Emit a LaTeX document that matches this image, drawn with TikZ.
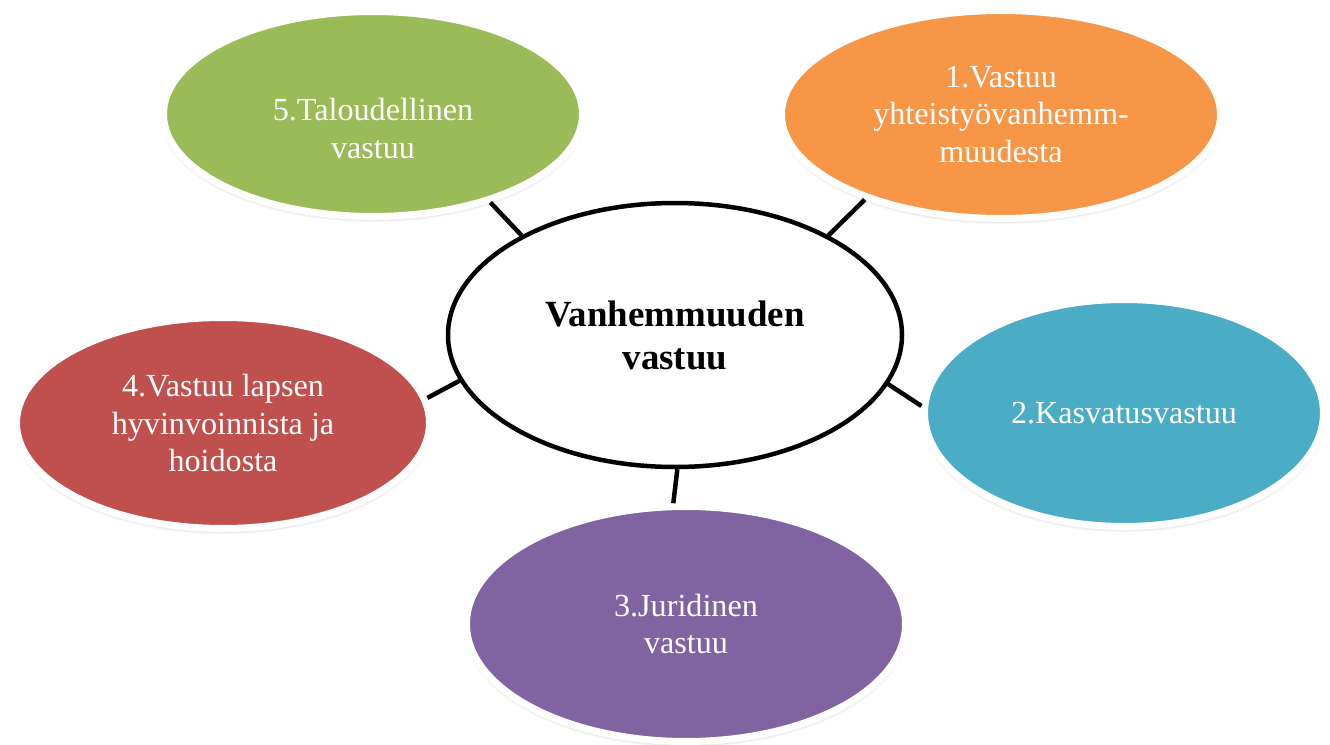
\documentclass[tikz,border=0pt]{standalone}
\usepackage{fontspec}
\setmainfont{Liberation Serif}
\usepackage{tikz}
\usetikzlibrary{shapes,shadows.blur}

\definecolor{partgreen}{HTML}{9BBB59}
\definecolor{partorange}{HTML}{F79646}
\definecolor{partblue}{HTML}{4BACC6}
\definecolor{partred}{HTML}{C0504D}
\definecolor{partpurple}{HTML}{8064A2}

\begin{document}
\begin{tikzpicture}[
    hub/.style={ellipse, draw, line width=0.09cm, fill=white, minimum width=9.08cm, minimum height=5.28cm, align=center, font=\fontsize{21}{24.5}\selectfont\bfseries},
    part/.style={ellipse, draw=white, line width=0.14cm, text=white, align=center, inner sep=0pt, font=\fontsize{18.3}{21.6}\selectfont,
        blur shadow={shadow xshift=0cm, shadow yshift=-0.06cm, shadow opacity=25, shadow blur steps=6}},
    link/.style={line width=0.09cm}
]
\useasboundingbox (0,0) rectangle (26.6,14.88);

\node[hub] (hub) at (13.50,8.18) {Vanhemmuuden\\vastuu};

\node[part, fill=partorange, minimum width=8.78cm, minimum height=4.16cm] (resp1) at (20.02,12.59) {1.Vastuu\\yhteistyövanhemm-\\muudesta};
\node[part, fill=partblue, minimum width=7.98cm, minimum height=4.54cm] (resp2) at (22.48,6.62) {2.Kasvatusvastuu};
\node[part, fill=partpurple, minimum width=8.78cm, minimum height=4.70cm] (resp3) at (13.72,2.40) {3.Juridinen\\vastuu};
\node[part, fill=partred, minimum width=8.26cm, minimum height=4.22cm] (resp4) at (4.46,6.42) {4.Vastuu lapsen\\hyvinvoinnista ja\\hoidosta};
\node[part, fill=partgreen, minimum width=8.38cm, minimum height=4.10cm] (resp5) at (7.46,12.60) {\rule{0pt}{29pt}5.Taloudellinen\\vastuu};

% short links from the hub
\draw[link] (hub.33) -- (resp1.212);
\draw[link] (hub.-13) -- (resp2.178);
\draw[link] (hub.-89) -- (resp3.96);
\draw[link] (hub.192) -- (resp4.7);
\draw[link] (hub.147) -- (resp5.-37);
\end{tikzpicture}
\end{document}
